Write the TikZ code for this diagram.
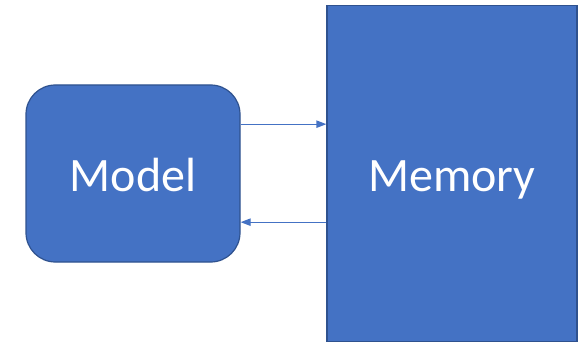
\documentclass[tikz,border=0pt]{standalone}
\usepackage{fontspec}
\setmainfont{Carlito}
\usetikzlibrary{arrows.meta}
\definecolor{boxfill}{HTML}{4472C4}
\definecolor{boxline}{HTML}{2F528F}
\tikzset{
  block/.style={draw=boxline, fill=boxfill, line width=0.9pt, text=white,
    font=\fontsize{36}{40}\selectfont, inner sep=0pt,
    text height=27.5pt, text depth=0pt},
  link/.style={draw=boxfill, line width=0.9pt,
    -{Triangle[length=7.5pt, width=5.5pt]}}
}
\begin{document}
\begin{tikzpicture}[x=0.75pt, y=-0.75pt]
				\useasboundingbox (0,0) rectangle (585,342);
				\node[block, rounded corners=22pt, minimum width=160.5pt,
				  minimum height=132.75pt] (model) at (133,173.5) {Model};
				\node[block, minimum width=187.5pt,
				  minimum height=252.5pt] (memory) at (452,173.5) {Memory};
				\draw[link] ([yshift=37pt]model.east) -- ([yshift=37pt]model.east -| memory.west);
				\draw[link] ([yshift=-36.5pt]model.east -| memory.west) -- ([yshift=-36.5pt]model.east);
			\end{tikzpicture}
\end{document}
